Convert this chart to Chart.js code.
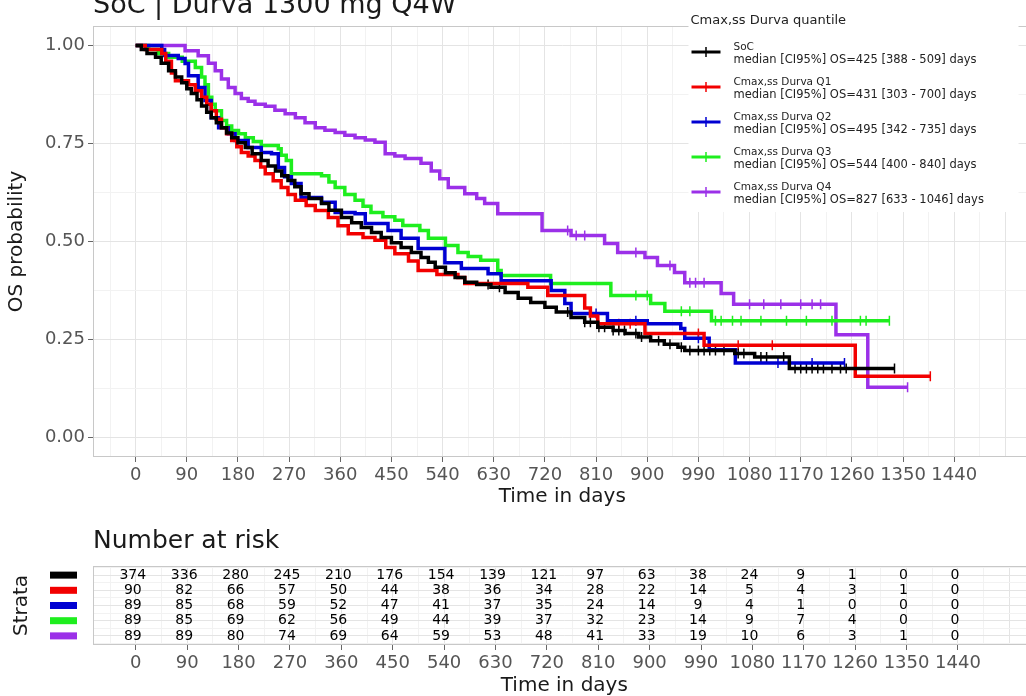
<!DOCTYPE html>
<html>
<head>
<meta charset="utf-8">
<script src="https://cdn.jsdelivr.net/npm/chart.js@4.4.1/dist/chart.umd.min.js"></script>
<style>
  body { margin: 0; background: #fff; width: 1026px; height: 696px; overflow: hidden; position: relative; }
  canvas { position: absolute; left: 0; }
  #km { top: 0; }
  #risk { top: 510px; }
</style>
</head>
<body>
<canvas id="km" width="1038" height="520"></canvas>
<canvas id="risk" width="1038" height="186"></canvas>
<script>
// tick labels
const dayTicks = [0, 90, 180, 270, 360, 450, 540, 630, 720, 810, 900, 990, 1080, 1170, 1260, 1350, 1440];
const probTicks = [0, 0.25, 0.5, 0.75, 1];

// KM curves: time of each step and survival after it
const socTime = [0, 10, 20, 35, 45, 58, 70, 81, 90, 98, 108, 116, 125, 133, 142, 151, 160, 169, 180, 193, 205, 221, 233, 246, 257, 268, 280, 291, 305, 327, 340, 362, 380, 397, 415, 432, 450, 467, 485, 502, 515, 527, 545, 562, 579, 600, 625, 650, 673, 695, 720, 740, 766, 790, 813, 840, 861, 885, 906, 930, 954, 966, 1054, 1089, 1150, 1335];
const socSurv = [1, 0.99, 0.98, 0.97, 0.955, 0.936, 0.92, 0.905, 0.89, 0.878, 0.862, 0.846, 0.83, 0.816, 0.803, 0.79, 0.777, 0.765, 0.752, 0.74, 0.724, 0.707, 0.693, 0.68, 0.668, 0.656, 0.64, 0.622, 0.61, 0.597, 0.58, 0.561, 0.548, 0.536, 0.523, 0.51, 0.497, 0.485, 0.472, 0.459, 0.447, 0.434, 0.42, 0.408, 0.396, 0.39, 0.383, 0.37, 0.355, 0.344, 0.332, 0.32, 0.306, 0.294, 0.281, 0.273, 0.265, 0.256, 0.247, 0.238, 0.23, 0.222, 0.214, 0.205, 0.176, 0.176];
const socCens = [620, 640, 760, 790, 800, 815, 825, 840, 850, 860, 880, 890, 905, 920, 940, 960, 975, 990, 1000, 1010, 1020, 1035, 1060, 1070, 1100, 1110, 1140, 1160, 1170, 1180, 1190, 1200, 1210, 1225, 1240, 1250, 1335];

const q1Time = [0, 17, 46, 53, 63, 70, 93, 105, 116, 125, 133, 142, 151, 160, 169, 178, 186, 198, 210, 220, 228, 242, 256, 268, 281, 300, 316, 339, 356, 374, 400, 421, 440, 456, 480, 497, 530, 567, 579, 690, 725, 790, 800, 813, 896, 1000, 1266, 1398];
const q1Surv = [1, 0.99, 0.98, 0.96, 0.93, 0.91, 0.9, 0.885, 0.868, 0.85, 0.834, 0.812, 0.79, 0.775, 0.758, 0.742, 0.727, 0.718, 0.707, 0.69, 0.673, 0.655, 0.638, 0.62, 0.605, 0.592, 0.579, 0.561, 0.54, 0.52, 0.51, 0.503, 0.485, 0.469, 0.45, 0.426, 0.416, 0.408, 0.393, 0.383, 0.362, 0.33, 0.31, 0.29, 0.265, 0.235, 0.156, 0.156];
const q1Cens = [850, 870, 990, 1060, 1120, 1398];

const q2Time = [0, 46, 51, 75, 87, 93, 110, 122, 133, 146, 163, 175, 198, 221, 239, 251, 262, 274, 291, 327, 351, 386, 404, 444, 467, 497, 544, 573, 620, 643, 731, 755, 766, 830, 900, 959, 966, 1009, 1055, 1247];
const q2Surv = [1, 0.99, 0.975, 0.967, 0.954, 0.923, 0.893, 0.86, 0.816, 0.79, 0.775, 0.758, 0.74, 0.727, 0.724, 0.689, 0.665, 0.648, 0.612, 0.6, 0.574, 0.571, 0.546, 0.528, 0.508, 0.482, 0.446, 0.431, 0.418, 0.4, 0.375, 0.342, 0.316, 0.298, 0.29, 0.278, 0.253, 0.224, 0.19, 0.19];
const q2Cens = [810, 880, 990, 1000, 1130, 1190, 1247];

const q3Time = [0, 23, 40, 58, 82, 105, 116, 122, 128, 134, 140, 151, 160, 169, 181, 193, 207, 221, 251, 256, 265, 274, 327, 340, 351, 368, 386, 400, 414, 435, 456, 470, 500, 515, 545, 567, 585, 607, 637, 643, 730, 836, 906, 931, 1013, 1326];
const q3Surv = [1, 0.99, 0.98, 0.97, 0.96, 0.944, 0.92, 0.9, 0.868, 0.85, 0.834, 0.809, 0.795, 0.783, 0.775, 0.765, 0.755, 0.745, 0.737, 0.72, 0.707, 0.673, 0.668, 0.652, 0.638, 0.62, 0.605, 0.59, 0.574, 0.563, 0.554, 0.541, 0.528, 0.508, 0.49, 0.472, 0.462, 0.452, 0.426, 0.413, 0.393, 0.362, 0.342, 0.322, 0.298, 0.298];
const q3Cens = [880, 900, 960, 975, 1020, 1030, 1050, 1065, 1100, 1145, 1180, 1225, 1275, 1285, 1326];

const q4Time = [0, 87, 110, 128, 140, 151, 163, 175, 186, 198, 210, 228, 245, 263, 281, 298, 316, 333, 351, 368, 386, 404, 421, 439, 456, 474, 502, 520, 535, 550, 579, 600, 614, 637, 715, 766, 825, 848, 896, 918, 948, 966, 1030, 1052, 1232, 1288, 1358];
const q4Surv = [1, 0.987, 0.974, 0.955, 0.936, 0.915, 0.893, 0.878, 0.865, 0.858, 0.85, 0.845, 0.835, 0.826, 0.816, 0.803, 0.79, 0.784, 0.778, 0.771, 0.765, 0.759, 0.753, 0.724, 0.718, 0.712, 0.7, 0.68, 0.66, 0.638, 0.622, 0.61, 0.597, 0.571, 0.528, 0.515, 0.495, 0.472, 0.459, 0.439, 0.421, 0.395, 0.367, 0.34, 0.262, 0.128, 0.128];
const q4Cens = [760, 775, 790, 880, 940, 975, 985, 1000, 1080, 1105, 1135, 1170, 1190, 1205, 1358];

// number at risk at each of dayTicks
const riskSoC = [374, 336, 280, 245, 210, 176, 154, 139, 121, 97, 63, 38, 24, 9, 1, 0, 0];
const riskQ1 = [90, 82, 66, 57, 50, 44, 38, 36, 34, 28, 22, 14, 5, 4, 3, 1, 0];
const riskQ2 = [89, 85, 68, 59, 52, 47, 41, 37, 35, 24, 14, 9, 4, 1, 0, 0, 0];
const riskQ3 = [89, 85, 69, 62, 56, 49, 44, 39, 37, 32, 23, 14, 9, 7, 4, 0, 0];
const riskQ4 = [89, 89, 80, 74, 69, 64, 59, 53, 48, 41, 33, 19, 10, 6, 3, 1, 0];

const legendTitle = "Cmax,ss Durva quantile";
const series = [
  { name: "SoC", median: "median [CI95%] OS=425 [388 - 509] days", color: "#000000", t: socTime, s: socSurv, c: socCens, risk: riskSoC },
  { name: "Cmax,ss Durva Q1", median: "median [CI95%] OS=431 [303 - 700] days", color: "#f20000", t: q1Time, s: q1Surv, c: q1Cens, risk: riskQ1 },
  { name: "Cmax,ss Durva Q2", median: "median [CI95%] OS=495 [342 - 735] days", color: "#0000d2", t: q2Time, s: q2Surv, c: q2Cens, risk: riskQ2 },
  { name: "Cmax,ss Durva Q3", median: "median [CI95%] OS=544 [400 - 840] days", color: "#1eee1e", t: q3Time, s: q3Surv, c: q3Cens, risk: riskQ3 },
  { name: "Cmax,ss Durva Q4", median: "median [CI95%] OS=827 [633 - 1046] days", color: "#9b30e8", t: q4Time, s: q4Surv, c: q4Cens, risk: riskQ4 }
];

const FONT = "'DejaVu Sans', sans-serif";
Chart.defaults.font.family = FONT;

function stepAt(ts, ss, d) {
  let v = ss[0];
  for (let i = 0; i < ts.length; i++) if (ts[i] <= d) v = ss[i];
  return v;
}

const isMajorDay = v => Math.abs(v % 90) < 1e-6;

function dayAxis(height, titlePad) {
  return {
    type: "linear", min: -75, max: 1576,
    afterBuildTicks: s => { s.ticks = []; for (let v = -45; v <= 1575; v += 45) s.ticks.push({ value: v }); },
    afterFit: s => { s.height = height; },
    ticks: { autoSkip: false, maxRotation: 0, padding: 3, color: "#555", font: { size: 18 },
             callback: v => dayTicks.includes(v) ? String(v) : "" },
    grid: { color: c => isMajorDay(c.tick.value) ? "#e4e4e4" : "#f2f2f2", lineWidth: 1,
            tickLength: 5, tickWidth: 1, tickColor: c => dayTicks.includes(c.tick.value) ? "#666" : "rgba(0,0,0,0)" },
    border: { display: false },
    title: { display: true, text: "Time in days", color: "#1a1a1a", font: { size: 20, lineHeight: 1.0 }, padding: { top: 0, bottom: titlePad } }
  };
}

const panelBorder = {
  id: "panelBorder",
  beforeDatasetsDraw(chart) {
    const { ctx, chartArea: a } = chart;
    ctx.save();
    ctx.strokeStyle = "#c8c8c8";
    ctx.lineWidth = 1;
    ctx.strokeRect(a.left + 0.5, a.top + 0.5, a.right - a.left - 1, a.bottom - a.top - 1);
    ctx.restore();
  }
};

const kmDecor = {
  id: "kmDecor",
  afterDraw(chart) {
    const { ctx, chartArea: a } = chart;
    ctx.save();
    // plot title (cut at the top as in the source)
    ctx.fillStyle = "#1a1a1a";
    ctx.font = "27px " + FONT;
    ctx.textBaseline = "alphabetic";
    ctx.fillText("SoC | Durva 1300 mg Q4W", a.left, 13);
    // legend inside the panel
    const left = a.right - 343;
    ctx.fillStyle = "#fff";
    ctx.fillRect(left, 0, 330, 212);
    ctx.fillStyle = "#222";
    ctx.font = "13px " + FONT;
    ctx.textBaseline = "middle";
    ctx.fillText(legendTitle, left + 2, 21);
    series.forEach((sr, i) => {
      const y = 52 + i * 35;
      ctx.strokeStyle = sr.color;
      ctx.lineWidth = 3;
      ctx.beginPath(); ctx.moveTo(left + 3, y); ctx.lineTo(left + 32, y); ctx.stroke();
      ctx.lineWidth = 1.5;
      ctx.beginPath(); ctx.moveTo(left + 17.5, y - 5); ctx.lineTo(left + 17.5, y + 5); ctx.stroke();
      ctx.fillStyle = "#222";
      ctx.font = "10.5px " + FONT;
      ctx.fillText(sr.name, left + 45, y - 5);
      ctx.font = "11.5px " + FONT;
      ctx.fillText(sr.median, left + 45, y + 8);
    });
    ctx.restore();
  }
};

const kmDatasets = [];
series.forEach(sr => {
  kmDatasets.push({
    label: sr.name,
    data: sr.t.map((d, i) => ({ x: d, y: sr.s[i] })),
    stepped: "before", borderColor: sr.color, borderWidth: 3.5,
    pointRadius: 0, fill: false
  });
});
series.forEach(sr => {
  kmDatasets.push({
    label: sr.name + " censored",
    data: sr.c.map(d => ({ x: d, y: stepAt(sr.t, sr.s, d) })),
    showLine: false, pointStyle: "line", rotation: 90, pointRadius: 5,
    borderColor: sr.color, borderWidth: 1.5
  });
});

new Chart(document.getElementById("km"), {
  type: "line",
  data: { datasets: kmDatasets },
  options: {
    responsive: false, animation: false, events: [],
    layout: { padding: { top: 26, left: 0, right: 0, bottom: 0 } },
    plugins: { legend: { display: false }, tooltip: { enabled: false } },
    scales: {
      x: dayAxis(63, 13),
      y: {
        min: -0.05, max: 1.05,
        afterBuildTicks: s => { s.ticks = []; for (let k = 0; k <= 8; k++) s.ticks.push({ value: k * 0.125 }); },
        afterFit: s => { s.width = 93; },
        ticks: { autoSkip: false, padding: 3, color: "#555", font: { size: 18 },
                 callback: v => probTicks.includes(v) ? v.toFixed(2) : "" },
        grid: { color: c => probTicks.includes(c.tick.value) ? "#e4e4e4" : "#f2f2f2", lineWidth: 1,
                tickLength: 5, tickWidth: 1, tickColor: c => probTicks.includes(c.tick.value) ? "#666" : "rgba(0,0,0,0)" },
        border: { display: false },
        title: { display: true, text: "OS probability", color: "#1a1a1a", font: { size: 20 }, padding: { top: 5, bottom: 0 } }
      }
    }
  },
  plugins: [panelBorder, kmDecor]
});

// risk table
const riskDecor = {
  id: "riskDecor",
  afterDatasetsDraw(chart) {
    const { ctx, chartArea: a } = chart;
    ctx.save();
    ctx.fillStyle = "#000";
    ctx.font = "14px " + FONT;
    ctx.textAlign = "center";
    ctx.textBaseline = "middle";
    chart.data.datasets.forEach((ds, i) => {
      chart.getDatasetMeta(i).data.forEach((el, j) => ctx.fillText(String(ds.counts[j]), el.x - 3, el.y));
    });
    const yScale = chart.scales.y;
    series.forEach((sr, i) => {
      ctx.fillStyle = sr.color;
      ctx.fillRect(50, yScale.getPixelForValue(i + 1) - 3.5, 27, 7);
    });
    ctx.textAlign = "left";
    ctx.textBaseline = "alphabetic";
    ctx.fillStyle = "#1a1a1a";
    ctx.font = "25px " + FONT;
    ctx.fillText("Number at risk", a.left, 38);
    ctx.restore();
  }
};

new Chart(document.getElementById("risk"), {
  type: "line",
  data: {
    datasets: series.map((sr, i) => ({
      label: sr.name,
      counts: sr.risk,
      data: dayTicks.map(d => ({ x: d, y: i + 1 })),
      showLine: false, pointRadius: 0
    }))
  },
  options: {
    responsive: false, animation: false, events: [],
    layout: { padding: { top: 56, left: 0, right: 0, bottom: 0 } },
    plugins: { legend: { display: false }, tooltip: { enabled: false } },
    scales: {
      x: dayAxis(51, 0),
      y: {
        min: 0.4, max: 5.6, reverse: true,
        afterBuildTicks: s => { s.ticks = []; for (let k = 1; k <= 11; k++) s.ticks.push({ value: k * 0.5 }); },
        afterFit: s => { s.width = 93; },
        ticks: { display: false },
        grid: { color: c => Number.isInteger(c.tick.value) ? "#e4e4e4" : "#f2f2f2", lineWidth: 1, drawTicks: false },
        border: { display: false },
        title: { display: true, text: "Strata", color: "#1a1a1a", font: { size: 20 }, padding: { top: 10, bottom: 0 } }
      }
    }
  },
  plugins: [panelBorder, riskDecor]
});
</script>
</body>
</html>
